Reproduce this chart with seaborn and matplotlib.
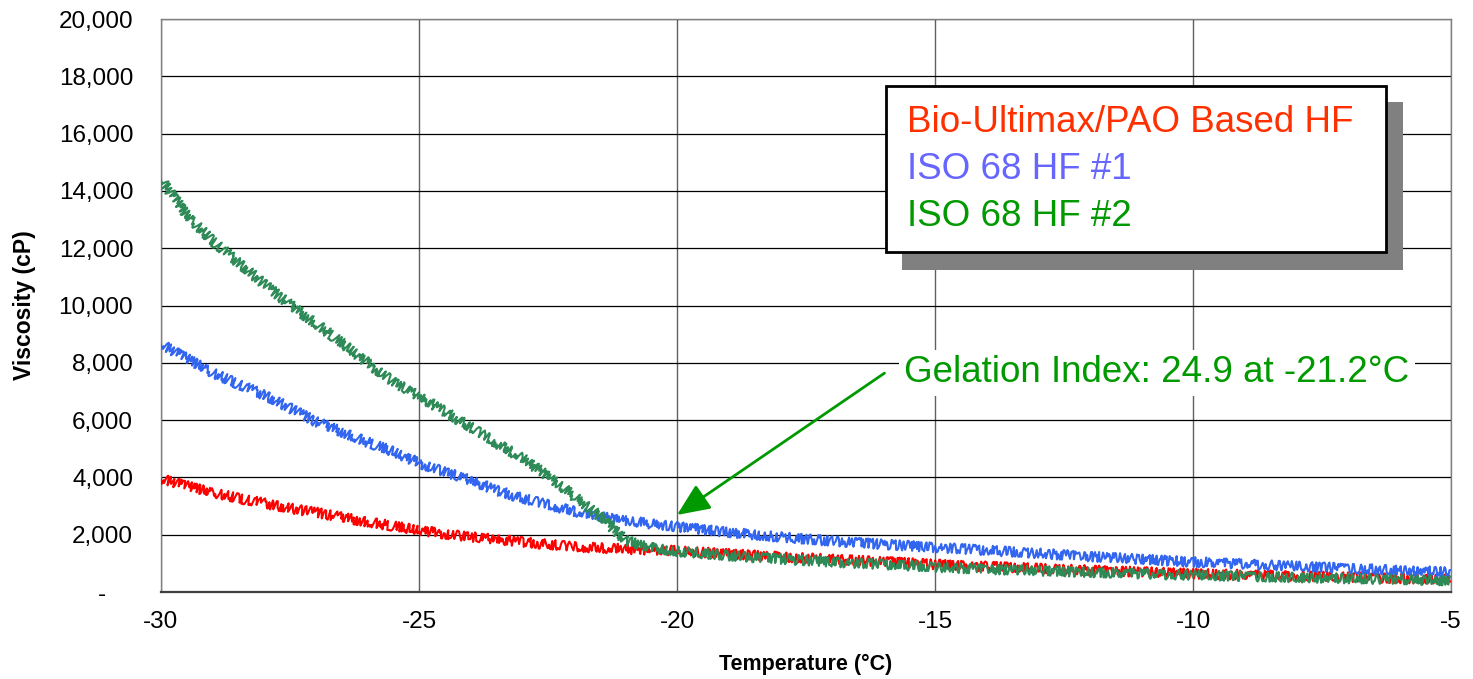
import numpy as np
import pandas as pd
import seaborn as sns
import matplotlib
matplotlib.use("Agg")
import matplotlib.pyplot as plt
from matplotlib.patches import Rectangle

# values (temperature in degC, viscosity in cP)
bio_temp = [-30, -29.5, -29, -28.5, -28, -27.5, -27, -26.5, -26, -25.5, -25, -24.5, -24,
            -23.5, -23, -22.5, -22, -21.5, -21, -20.5, -20, -19, -18, -17, -16, -15,
            -14, -13, -12, -11, -10, -9, -8, -7, -6, -5]
bio_visc = [3950, 3700, 3470, 3270, 3100, 2920, 2780, 2610, 2450, 2300, 2160, 2030, 1930,
            1840, 1750, 1660, 1580, 1540, 1500, 1470, 1440, 1330, 1230, 1140, 1060, 960,
            890, 820, 760, 700, 640, 600, 560, 520, 480, 450]

hf1_temp = bio_temp
hf1_visc = [8650, 8150, 7650, 7250, 6880, 6420, 5950, 5600, 5230, 4900, 4500, 4200, 3900,
            3550, 3270, 3050, 2820, 2630, 2500, 2380, 2280, 2080, 1920, 1780, 1660, 1560,
            1450, 1350, 1240, 1140, 1050, 980, 900, 830, 760, 690]

hf2_temp = [-30, -29.5, -29, -28.5, -28, -27.5, -27, -26.5, -26, -25.5, -25, -24.5, -24,
            -23.5, -23, -22.5, -22, -21.5, -21.2, -21, -20.5, -20, -19, -18, -17, -16,
            -15, -14, -13, -12, -11, -10, -9, -8, -7, -6, -5]
hf2_visc = [14400, 13150, 12250, 11500, 10750, 10030, 9380, 8700, 8000, 7350, 6830, 6300, 5750,
            5200, 4670, 4050, 3350, 2650, 2150, 1800, 1550, 1420, 1270, 1150, 1050, 960,
            870, 800, 740, 690, 640, 590, 550, 510, 470, 430, 400]

series_names = ["Bio-Ultimax/PAO Based HF", "ISO 68 HF #1", "ISO 68 HF #2"]
line_colors = ["#ff0000", "#3366f0", "#2e8b57"]
label_colors = ["#ff3000", "#6666ff", "#009900"]

y_ticks = [0, 2000, 4000, 6000, 8000, 10000, 12000, 14000, 16000, 18000, 20000]
x_ticks = [-30, -25, -20, -15, -10, -5]

sns.set_style("white")
plt.rcParams["font.family"] = ["Liberation Sans", "DejaVu Sans"]
plt.rcParams["text.color"] = "black"
plt.rcParams["axes.labelcolor"] = "black"
plt.rcParams["xtick.color"] = "black"
plt.rcParams["ytick.color"] = "black"

fig = plt.figure(figsize=(14.73, 6.79), dpi=100)
fig.subplots_adjust(left=0.1093, right=0.9851, top=0.9720, bottom=0.1281)
ax = fig.add_subplot(111)

frames = [
    pd.DataFrame({"temp": bio_temp, "visc": bio_visc}),
    pd.DataFrame({"temp": hf1_temp, "visc": hf1_visc}),
    pd.DataFrame({"temp": hf2_temp, "visc": hf2_visc}),
]
for df, col in zip(frames, line_colors):
    sns.lineplot(data=df, x="temp", y="visc", color=col, linewidth=1.5,
                 estimator=None, sort=False, ax=ax, zorder=3)

# the measured traces are very noisy: give the lines a jittery look
for ln in ax.lines:
    ln.set_sketch_params(scale=5, length=3, randomness=4)

ax.set_xlim(-30, -5)
ax.set_ylim(0, 20000)
ax.set_xticks(x_ticks)
ax.set_xticklabels([str(t) for t in x_ticks])
ax.set_yticks(y_ticks)
ax.set_yticklabels(["-    "] + [f"{v:,}" for v in y_ticks[1:]])
ax.tick_params(axis="x", length=6, width=1, color="#404040", pad=8, labelsize=17.5)
ax.tick_params(axis="y", length=0, pad=20, labelsize=17.5)

ax.grid(axis="y", color="black", linewidth=0.9)
ax.grid(axis="x", color="#606060", linewidth=1.0)
ax.set_axisbelow(True)
for side in ["left", "top", "right"]:
    ax.spines[side].set_color("#808080")
    ax.spines[side].set_linewidth(1.0)
ax.spines["bottom"].set_color("#404040")
ax.spines["bottom"].set_linewidth(1.6)

ax.set_xlabel("Temperature (°C)", fontsize=15.5, fontweight="bold", labelpad=15)
ax.set_ylabel("Viscosity (cP)", fontsize=16.5, fontweight="bold", labelpad=16)

# legend box with a hard grey shadow
ax.add_patch(Rectangle((0.5744, 0.5620), 0.3884, 0.2931, transform=ax.transAxes,
                       facecolor="#808080", edgecolor="none", zorder=5))
ax.add_patch(Rectangle((0.5620, 0.5934), 0.3876, 0.2897, transform=ax.transAxes,
                       facecolor="white", edgecolor="black", linewidth=2, zorder=6))
for name, col, yy in zip(series_names, label_colors, [0.820, 0.738, 0.656]):
    ax.text(0.578, yy, name, color=col, fontsize=26.5, transform=ax.transAxes,
            ha="left", va="center", zorder=7)

# gelation annotation
ax.annotate("", xy=(-20.0, 2690), xytext=(-15.98, 7640),
            arrowprops=dict(arrowstyle="-|>,head_length=0.8,head_width=0.35",
                            color="#009900", lw=2, mutation_scale=25, shrinkA=0, shrinkB=0),
            zorder=6)
ax.text(-15.6, 7645, "Gelation Index: 24.9 at -21.2°C", color="#009900", fontsize=26.5,
        ha="left", va="center", zorder=7,
        bbox=dict(facecolor="white", edgecolor="none", pad=4))

fig.savefig("out.png", dpi=100, facecolor="white")
